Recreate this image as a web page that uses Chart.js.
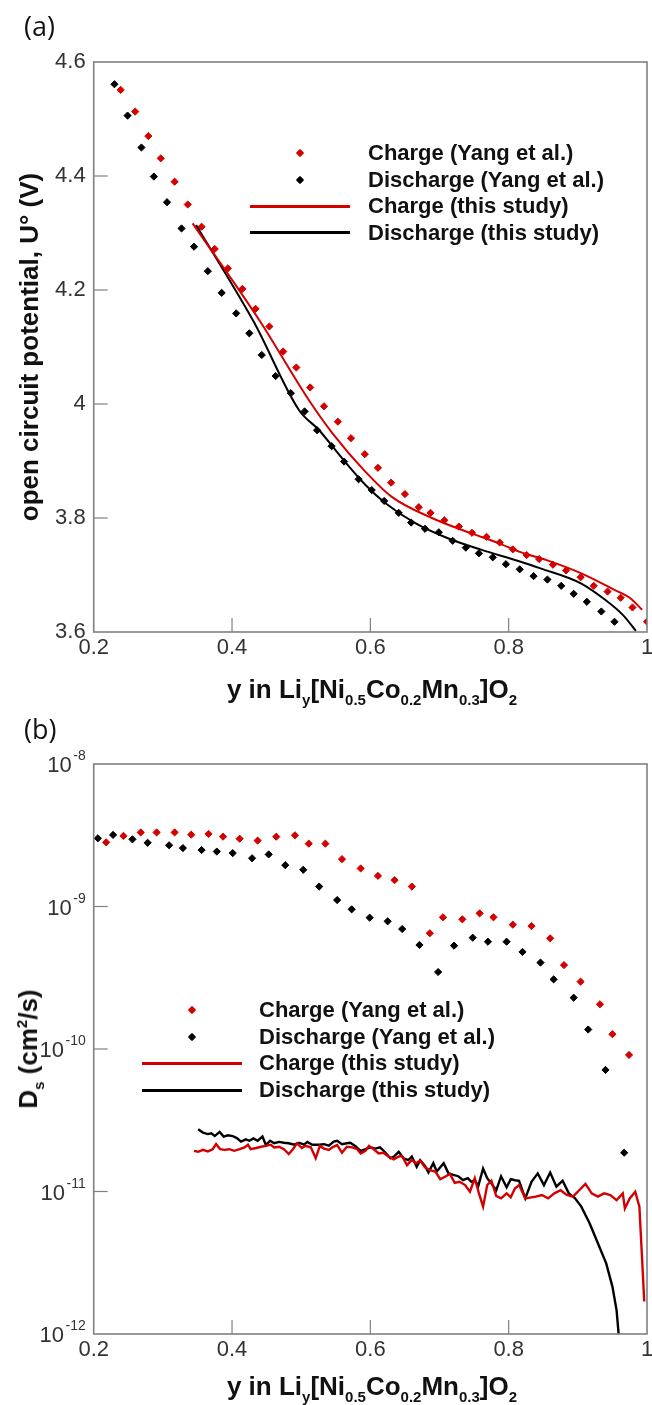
<!DOCTYPE html>
<html>
<head>
<meta charset="utf-8">
<title>OCP and Ds of Li[Ni0.5Co0.2Mn0.3]O2</title>
<script src="https://cdn.jsdelivr.net/npm/chart.js"></script>
<style>
    body { margin: 0; background: #fff; }
    #page { position: relative; width: 652px; height: 1405px; overflow: hidden; font-family: "Liberation Sans", Arial, sans-serif; color: #111; }
    canvas { position: absolute; left: 0; }
    .panel { position: absolute; font-family: "Open Sans", sans-serif; font-size: 27px; line-height: 27px; }
    .title { position: absolute; font-weight: bold; font-size: 26px; line-height: 26px; white-space: nowrap; }
    .title sub { font-size: 15px; line-height: 0; vertical-align: -7px; }
    .title sup { font-size: 15px; line-height: 0; vertical-align: 10px; }
    .ytitle { transform: translate(-50%, -50%) rotate(-90deg); }
    .xtitle { transform: translateX(-50%); }
    .lg-text { position: absolute; font-weight: bold; font-size: 22px; line-height: 26px; white-space: nowrap; }
    .lg-dot { position: absolute; width: 6px; height: 6px; transform: rotate(45deg); border-radius: 1px; }
    .lg-line { position: absolute; height: 3px; }
</style>
</head>
<body>
<div id="page">
    <canvas id="ocpChart" width="652" height="700" style="top:0"></canvas>
    <canvas id="dsChart" width="652" height="705" style="top:700px"></canvas>

    <div class="panel" style="left:24px; top:12px">(a)</div>
    <div class="panel" style="left:24px; top:715px">(b)</div>

    <div class="title ytitle" style="left:29px; top:347px">open circuit potential, U° (V)</div>
    <div class="title xtitle" style="left:372px; top:676px">y in Li<sub>y</sub>[Ni<sub>0.5</sub>Co<sub>0.2</sub>Mn<sub>0.3</sub>]O<sub>2</sub></div>
    <div class="title ytitle" style="left:28px; top:1049px">D<sub>s</sub> (cm<sup>2</sup>/s)</div>
    <div class="title xtitle" style="left:372px; top:1373px">y in Li<sub>y</sub>[Ni<sub>0.5</sub>Co<sub>0.2</sub>Mn<sub>0.3</sub>]O<sub>2</sub></div>
</div>
<script>
    // ---- (a) open circuit potential ----
    const ocpChargeYangX = [0.239, 0.260, 0.279, 0.297, 0.317, 0.336, 0.356, 0.375, 0.394, 0.415, 0.434, 0.454, 0.474, 0.493, 0.513, 0.533, 0.553, 0.572, 0.592, 0.611, 0.630, 0.650, 0.670, 0.687, 0.707, 0.728, 0.747, 0.768, 0.787, 0.806, 0.826, 0.844, 0.864, 0.883, 0.904, 0.923, 0.943, 0.962, 0.979, 1.000];
    const ocpChargeYangV = [4.551, 4.513, 4.470, 4.431, 4.390, 4.350, 4.311, 4.272, 4.238, 4.202, 4.167, 4.136, 4.092, 4.064, 4.029, 3.996, 3.969, 3.940, 3.912, 3.888, 3.862, 3.842, 3.819, 3.809, 3.796, 3.785, 3.774, 3.767, 3.757, 3.745, 3.735, 3.728, 3.718, 3.708, 3.696, 3.681, 3.671, 3.660, 3.643, 3.618];

    const ocpDischargeYangX = [0.230, 0.249, 0.269, 0.287, 0.306, 0.327, 0.345, 0.365, 0.385, 0.406, 0.425, 0.443, 0.463, 0.485, 0.505, 0.523, 0.544, 0.562, 0.583, 0.602, 0.620, 0.641, 0.659, 0.679, 0.699, 0.719, 0.738, 0.757, 0.777, 0.796, 0.816, 0.836, 0.856, 0.876, 0.894, 0.913, 0.934, 0.953];
    const ocpDischargeYangV = [4.561, 4.506, 4.450, 4.399, 4.354, 4.308, 4.276, 4.233, 4.195, 4.159, 4.124, 4.086, 4.049, 4.019, 3.987, 3.954, 3.926, 3.899, 3.868, 3.849, 3.830, 3.809, 3.792, 3.781, 3.775, 3.760, 3.748, 3.738, 3.731, 3.719, 3.710, 3.698, 3.692, 3.681, 3.667, 3.653, 3.636, 3.618];

    const ocpChargeStudyX = [0.343, 0.440, 0.511, 0.545, 0.593, 0.631, 0.689, 0.746, 0.785, 0.815, 0.860, 0.905, 0.953, 0.975, 0.993];
    const ocpChargeStudyV = [4.317, 4.146, 4.007, 3.949, 3.881, 3.837, 3.800, 3.773, 3.756, 3.741, 3.724, 3.703, 3.674, 3.660, 3.639];

    const ocpDischargeStudyX = [0.348, 0.432, 0.497, 0.526, 0.559, 0.593, 0.622, 0.665, 0.713, 0.761, 0.815, 0.845, 0.905, 0.940, 0.965, 0.984];
    const ocpDischargeStudyV = [4.314, 4.143, 3.989, 3.954, 3.905, 3.858, 3.826, 3.791, 3.764, 3.744, 3.724, 3.712, 3.685, 3.656, 3.630, 3.602];

    // ---- (b) diffusion coefficient ----
    const dsChargeYangX = [0.218, 0.243, 0.268, 0.291, 0.317, 0.341, 0.366, 0.387, 0.411, 0.437, 0.464, 0.491, 0.511, 0.535, 0.559, 0.586, 0.611, 0.635, 0.660, 0.686, 0.705, 0.733, 0.758, 0.778, 0.806, 0.833, 0.860, 0.880, 0.904, 0.932, 0.950, 0.974];
    const dsChargeYangD = [2.82e-9, 3.13e-9, 3.31e-9, 3.31e-9, 3.31e-9, 3.19e-9, 3.23e-9, 3.09e-9, 2.99e-9, 2.90e-9, 3.09e-9, 3.16e-9, 2.76e-9, 2.76e-9, 2.15e-9, 1.85e-9, 1.64e-9, 1.53e-9, 1.38e-9, 6.49e-10, 8.40e-10, 8.13e-10, 8.95e-10, 8.40e-10, 7.45e-10, 7.29e-10, 5.98e-10, 3.88e-10, 2.97e-10, 2.06e-10, 1.27e-10, 9.08e-11];

    const dsDischargeYangX = [0.206, 0.228, 0.256, 0.278, 0.309, 0.329, 0.356, 0.378, 0.401, 0.429, 0.453, 0.477, 0.503, 0.526, 0.552, 0.573, 0.599, 0.625, 0.646, 0.671, 0.698, 0.721, 0.748, 0.770, 0.797, 0.820, 0.846, 0.865, 0.894, 0.915, 0.940, 0.967];
    const dsDischargeYangD = [3.01e-9, 3.18e-9, 2.96e-9, 2.80e-9, 2.69e-9, 2.57e-9, 2.49e-9, 2.43e-9, 2.37e-9, 2.18e-9, 2.32e-9, 1.95e-9, 1.81e-9, 1.38e-9, 1.11e-9, 9.55e-10, 8.35e-10, 7.87e-10, 6.95e-10, 5.37e-10, 3.47e-10, 5.31e-10, 6.04e-10, 5.66e-10, 5.66e-10, 4.80e-10, 4.04e-10, 3.08e-10, 2.29e-10, 1.37e-10, 7.13e-11, 1.87e-11];

    const dsChargeStudyX = [0.345, 0.351, 0.358, 0.365, 0.372, 0.377, 0.383, 0.389, 0.396, 0.403, 0.411, 0.418, 0.423, 0.427, 0.435, 0.442, 0.449, 0.456, 0.461, 0.468, 0.475, 0.482, 0.488, 0.494, 0.501, 0.506, 0.514, 0.521, 0.527, 0.533, 0.540, 0.545, 0.552, 0.559, 0.566, 0.574, 0.581, 0.586, 0.593, 0.598, 0.605, 0.612, 0.619, 0.626, 0.634, 0.641, 0.646, 0.653, 0.660, 0.666, 0.672, 0.679, 0.686, 0.694, 0.701, 0.708, 0.715, 0.722, 0.729, 0.737, 0.744, 0.751, 0.757, 0.763, 0.769, 0.775, 0.782, 0.789, 0.797, 0.803, 0.809, 0.815, 0.824, 0.839, 0.848, 0.857, 0.866, 0.875, 0.884, 0.893, 0.902, 0.911, 0.920, 0.929, 0.938, 0.947, 0.956, 0.965, 0.968, 0.975, 0.983, 0.989, 0.992, 0.996];
    const dsChargeStudyD = [1.93e-11, 1.90e-11, 1.96e-11, 1.91e-11, 1.98e-11, 2.15e-11, 1.98e-11, 1.96e-11, 1.98e-11, 1.93e-11, 1.98e-11, 2.04e-11, 2.13e-11, 1.98e-11, 2.02e-11, 2.06e-11, 2.09e-11, 2.13e-11, 2.04e-11, 2.06e-11, 1.98e-11, 1.83e-11, 1.98e-11, 2.18e-11, 2.02e-11, 2.09e-11, 2.04e-11, 1.71e-11, 2.09e-11, 2.00e-11, 1.96e-11, 2.04e-11, 2.12e-11, 1.87e-11, 2.06e-11, 2.04e-11, 1.98e-11, 1.85e-11, 1.93e-11, 2.09e-11, 1.98e-11, 1.85e-11, 1.87e-11, 1.76e-11, 1.68e-11, 1.76e-11, 1.77e-11, 1.53e-11, 1.66e-11, 1.58e-11, 1.65e-11, 1.48e-11, 1.41e-11, 1.38e-11, 1.22e-11, 1.27e-11, 1.33e-11, 1.15e-11, 1.17e-11, 1.11e-11, 9.97e-12, 1.24e-11, 9.70e-12, 7.83e-12, 1.11e-11, 1.19e-11, 9.30e-12, 8.95e-12, 9.70e-12, 9.10e-12, 1.05e-11, 1.11e-11, 8.95e-12, 9.20e-12, 9.45e-12, 8.95e-12, 9.70e-12, 1.02e-11, 9.45e-12, 9.20e-12, 1.02e-11, 1.13e-11, 9.70e-12, 9.20e-12, 9.70e-12, 9.45e-12, 8.70e-12, 9.70e-12, 7.60e-12, 8.95e-12, 9.97e-12, 7.83e-12, 4.10e-12, 1.69e-12];

    const dsDischargeStudyX = [0.351, 0.358, 0.365, 0.370, 0.375, 0.382, 0.388, 0.394, 0.401, 0.407, 0.413, 0.420, 0.425, 0.431, 0.437, 0.444, 0.449, 0.455, 0.461, 0.468, 0.475, 0.482, 0.490, 0.497, 0.504, 0.509, 0.516, 0.526, 0.533, 0.540, 0.547, 0.552, 0.559, 0.566, 0.571, 0.578, 0.586, 0.593, 0.600, 0.607, 0.614, 0.622, 0.629, 0.634, 0.641, 0.648, 0.655, 0.660, 0.667, 0.672, 0.679, 0.684, 0.691, 0.696, 0.706, 0.713, 0.720, 0.727, 0.734, 0.741, 0.746, 0.751, 0.756, 0.763, 0.769, 0.775, 0.782, 0.789, 0.797, 0.803, 0.809, 0.815, 0.824, 0.833, 0.842, 0.851, 0.860, 0.869, 0.878, 0.887, 0.896, 0.905, 0.917, 0.929, 0.941, 0.950, 0.956, 0.959];
    const dsDischargeStudyD = [2.73e-11, 2.59e-11, 2.53e-11, 2.56e-11, 2.45e-11, 2.62e-11, 2.43e-11, 2.48e-11, 2.45e-11, 2.37e-11, 2.24e-11, 2.32e-11, 2.27e-11, 2.36e-11, 2.27e-11, 2.43e-11, 2.12e-11, 2.27e-11, 2.18e-11, 2.23e-11, 2.20e-11, 2.18e-11, 2.13e-11, 2.20e-11, 2.13e-11, 2.23e-11, 2.13e-11, 2.13e-11, 2.15e-11, 2.10e-11, 2.24e-11, 2.27e-11, 2.15e-11, 2.18e-11, 2.20e-11, 2.09e-11, 1.93e-11, 1.98e-11, 2.04e-11, 2.00e-11, 2.04e-11, 1.87e-11, 1.71e-11, 1.76e-11, 1.90e-11, 1.71e-11, 1.66e-11, 1.76e-11, 1.49e-11, 1.66e-11, 1.51e-11, 1.36e-11, 1.58e-11, 1.38e-11, 1.58e-11, 1.34e-11, 1.31e-11, 1.28e-11, 1.20e-11, 1.24e-11, 1.17e-11, 1.20e-11, 1.09e-11, 1.45e-11, 1.24e-11, 1.14e-11, 1.02e-11, 1.28e-11, 1.07e-11, 1.22e-11, 1.20e-11, 1.19e-11, 8.95e-12, 1.17e-11, 1.34e-11, 1.11e-11, 1.36e-11, 1.08e-11, 1.19e-11, 9.70e-12, 8.95e-12, 7.83e-12, 5.98e-12, 4.33e-12, 3.13e-12, 2.15e-12, 1.47e-12, 1.00e-12];

    // axes
    const yFracTicks = [0.2, 0.4, 0.6, 0.8, 1];
    const ocpTicks = [3.6, 3.8, 4, 4.2, 4.4, 4.6];
    const dsExponents = [-12, -11, -10, -9, -8];

    const legendLabels = ['Charge (Yang et al.)', 'Discharge (Yang et al.)', 'Charge (this study)', 'Discharge (this study)'];

    const RED = '#d40000';
    const BLACK = '#000000';
    const FONT = '"Liberation Sans", Arial, sans-serif';
    const TICK_FONT = '"Liberation Sans Narrow", "Arial Narrow", "Liberation Sans", Arial, sans-serif';
    const AXIS_LEFT = 93.7;

    function pts(xs, ys) {
        return xs.map((x, i) => ({ x: x, y: ys[i] }));
    }

    function dots(label, xs, ys, color) {
        return {
            label: label, data: pts(xs, ys), showLine: false, kind: 'dot',
            pointStyle: 'rectRot', pointRadius: 3.6,
            pointBackgroundColor: color, pointBorderColor: color, pointBorderWidth: 1,
            borderColor: color
        };
    }

    function curve(label, xs, ys, color, width, smooth) {
        return {
            label: label, data: pts(xs, ys), showLine: true, kind: 'line',
            pointRadius: 0, borderColor: color, borderWidth: width,
            cubicInterpolationMode: smooth ? 'monotone' : 'default', tension: 0
        };
    }

    // frame, inward tick marks and 10^n labels
    const framePlugin = {
        id: 'frame',
        afterDraw(chart, args, opts) {
            const ctx = chart.ctx;
            const a = chart.chartArea;
            const sx = chart.scales.x, sy = chart.scales.y;
            ctx.save();
            ctx.strokeStyle = '#808080';
            ctx.lineWidth = 1.2;
            sx.ticks.forEach(t => {
                const px = sx.getPixelForValue(t.value);
                if (px < a.left + 2 || px > a.right - 2) return;
                ctx.beginPath();
                ctx.moveTo(px, a.bottom);
                ctx.lineTo(px, a.bottom - 14);
                ctx.stroke();
            });
            sy.ticks.forEach(t => {
                const py = sy.getPixelForValue(t.value);
                if (py < a.top + 2 || py > a.bottom - 2) return;
                ctx.beginPath();
                ctx.moveTo(a.left, py);
                ctx.lineTo(a.left + 14, py);
                ctx.stroke();
            });
            ctx.lineWidth = 1.6;
            ctx.strokeRect(a.left, a.top, a.right - a.left, a.bottom - a.top);

            if (opts.powerLabels) {
                ctx.fillStyle = '#333';
                ctx.textAlign = 'right';
                ctx.textBaseline = 'alphabetic';
                sy.ticks.forEach(t => {
                    const py = sy.getPixelForValue(t.value);
                    const sup = String(Math.round(Math.log10(t.value)));
                    const right = a.left - 8;
                    ctx.font = '14px ' + TICK_FONT;
                    const w = ctx.measureText(sup).width;
                    ctx.fillText(sup, right, py - 4);
                    ctx.font = '22px ' + TICK_FONT;
                    ctx.fillText('10', right - w - 1.5, py + 8);
                });
            }
            ctx.restore();
        }
    };

    function xAxis(height) {
        return {
            type: 'linear', min: 0.2, max: 1,
            afterBuildTicks(s) { s.ticks = yFracTicks.map(v => ({ value: v })); },
            ticks: {
                padding: 3, color: '#333', maxRotation: 0, autoSkip: false,
                font: { family: TICK_FONT, size: 22 },
                callback: v => String(+v.toFixed(1))
            },
            grid: { display: false, drawTicks: false },
            border: { display: false },
            afterFit(s) { s.height = height; s.paddingLeft = 0; s.paddingRight = 0; }
        };
    }

    function baseOptions(topPad, xHeight, yAxis, powerLabels) {
        return {
            responsive: false,
            animation: false,
            devicePixelRatio: 1,
            events: [],
            layout: { padding: { top: topPad, right: 2.3, left: 0, bottom: 0 } },
            plugins: {
                legend: { display: false },
                tooltip: { enabled: false },
                frame: { powerLabels: powerLabels }
            },
            scales: { x: xAxis(xHeight), y: yAxis }
        };
    }

    const ocpChart = new Chart(document.getElementById('ocpChart'), {
        type: 'scatter',
        data: {
            datasets: [
                curve(legendLabels[2], ocpChargeStudyX, ocpChargeStudyV, RED, 2, true),
                curve(legendLabels[3], ocpDischargeStudyX, ocpDischargeStudyV, BLACK, 2, true),
                dots(legendLabels[0], ocpChargeYangX, ocpChargeYangV, RED),
                dots(legendLabels[1], ocpDischargeYangX, ocpDischargeYangV, BLACK)
            ]
        },
        options: baseOptions(62, 68, {
            type: 'linear', min: 3.6, max: 4.6,
            afterBuildTicks(s) { s.ticks = ocpTicks.map(v => ({ value: v })); },
            ticks: {
                padding: 8, color: '#333',
                font: { family: TICK_FONT, size: 22 },
                callback: v => String(+v.toFixed(1))
            },
            grid: { display: false, drawTicks: false },
            border: { display: false },
            afterFit(s) { s.width = AXIS_LEFT; s.paddingTop = 0; s.paddingBottom = 0; }
        }, false),
        plugins: [framePlugin]
    });

    const dsChart = new Chart(document.getElementById('dsChart'), {
        type: 'scatter',
        data: {
            datasets: [
                curve(legendLabels[2], dsChargeStudyX, dsChargeStudyD, RED, 2.4, false),
                curve(legendLabels[3], dsDischargeStudyX, dsDischargeStudyD, BLACK, 2.4, false),
                dots(legendLabels[0], dsChargeYangX, dsChargeYangD, RED),
                dots(legendLabels[1], dsDischargeYangX, dsDischargeYangD, BLACK)
            ]
        },
        options: baseOptions(64, 71, {
            type: 'logarithmic', min: 1e-12, max: 1e-8,
            afterBuildTicks(s) { s.ticks = dsExponents.map(e => ({ value: Math.pow(10, e) })); },
            ticks: { display: false },
            grid: { display: false, drawTicks: false },
            border: { display: false },
            afterFit(s) { s.width = AXIS_LEFT; s.paddingTop = 0; s.paddingBottom = 0; }
        }, true),
        plugins: [framePlugin]
    });

    // legends drawn as HTML, in the order of the reference
    function buildLegend(chart, pos) {
        const page = document.getElementById('page');
        const order = [2, 3, 0, 1];
        order.forEach((di, row) => {
            const ds = chart.data.datasets[di];
            const cy = pos.top + row * pos.gap;
            if (ds.kind === 'dot') {
                const d = document.createElement('div');
                d.className = 'lg-dot';
                d.style.background = ds.pointBackgroundColor;
                d.style.left = (pos.markX - 3) + 'px';
                d.style.top = (cy - 3) + 'px';
                page.appendChild(d);
            } else {
                const l = document.createElement('div');
                l.className = 'lg-line';
                l.style.background = ds.borderColor;
                l.style.left = (pos.markX - 50) + 'px';
                l.style.width = '100px';
                l.style.top = (cy - 1.5) + 'px';
                page.appendChild(l);
            }
            const t = document.createElement('div');
            t.className = 'lg-text';
            t.textContent = ds.label;
            t.style.left = pos.textX + 'px';
            t.style.top = (cy - 13) + 'px';
            page.appendChild(t);
        });
    }

    buildLegend(ocpChart, { top: 153, gap: 26.6, markX: 300, textX: 368 });
    buildLegend(dsChart, { top: 1010, gap: 26.7, markX: 191.7, textX: 259 });
</script>
</body>
</html>
